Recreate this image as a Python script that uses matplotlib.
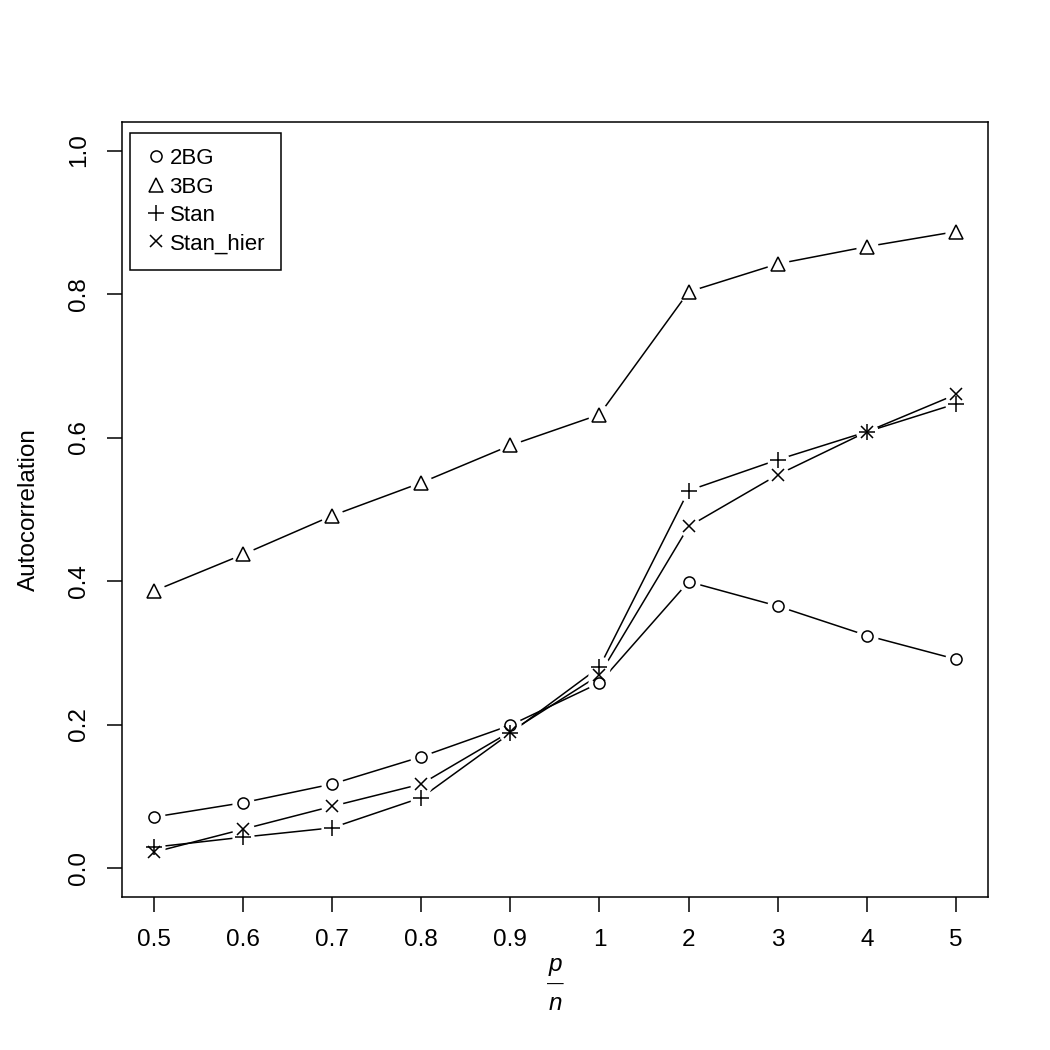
import matplotlib
matplotlib.use("Agg")
from matplotlib import pyplot as plt

ratio_labels = ["0.5", "0.6", "0.7", "0.8", "0.9", "1", "2", "3", "4", "5"]
idx = list(range(1, len(ratio_labels) + 1))

bg2 = [0.071, 0.091, 0.117, 0.155, 0.199, 0.258, 0.399, 0.365, 0.324, 0.291]
bg3 = [0.386, 0.437, 0.491, 0.537, 0.589, 0.632, 0.803, 0.842, 0.866, 0.887]
stan = [0.029, 0.043, 0.056, 0.098, 0.188, 0.280, 0.526, 0.569, 0.608, 0.647]
stan_hier = [0.022, 0.054, 0.086, 0.117, 0.190, 0.269, 0.476, 0.548, 0.608, 0.660]

series = [("2BG", bg2, "o", 8), ("3BG", bg3, "^", 10),
          ("Stan", stan, "+", 12), ("Stan_hier", stan_hier, "x", 9)]

plt.rcParams["font.family"] = ["Liberation Sans", "DejaVu Sans"]

fig = plt.figure(figsize=(10.5, 10.5), dpi=100)
ax = fig.add_axes([0.116, 0.146, 0.825, 0.738])

# lines, then white knockouts (type="b" gaps), then hollow markers
for name, vals, mk, ms in series:
    ax.plot(idx, vals, color="black", lw=1.1, zorder=1)
for name, vals, mk, ms in series:
    ax.plot(idx, vals, ls="none", marker="o", ms=16, mfc="white", mec="none", zorder=2)
for name, vals, mk, ms in series:
    ax.plot(idx, vals, ls="none", marker=mk, ms=ms, mfc="none", mec="black",
            mew=1.1, zorder=3, label=name)

ax.set_xlim(0.64, 10.36)
ax.set_ylim(-0.04, 1.04)
ax.set_xticks(idx)
ax.set_xticklabels(ratio_labels)
ax.set_yticks([0.0, 0.2, 0.4, 0.6, 0.8, 1.0])
ax.set_yticklabels(["0.0", "0.2", "0.4", "0.6", "0.8", "1.0"], rotation=90, va="center")
ax.tick_params(direction="out", length=11, width=1.1, labelsize=17.5, colors="black")
ax.tick_params(axis="x", pad=12)
ax.tick_params(axis="y", pad=12)
for s in ax.spines.values():
    s.set_linewidth(1.1)

ax.set_ylabel("Autocorrelation", fontsize=17.5, labelpad=20)

# x label: p over n, as in R's frac()
cx = 0.116 + 0.825 / 2
fig.text(cx, 1 - 965 / 1050, "p", fontsize=17.5, style="italic", ha="center", va="center")
fig.text(cx, 1 - 984 / 1050, "\u2014", fontsize=12, ha="center", va="center")
fig.text(cx, 1 - 1004 / 1050, "n", fontsize=17.5, style="italic", ha="center", va="center")

leg = ax.legend(loc="upper left", bbox_to_anchor=(0.009, 0.986), fontsize=16,
                frameon=True, fancybox=False, edgecolor="black", framealpha=1,
                handlelength=1.0, handletextpad=0.1, borderpad=0.7, labelspacing=0.33,
                borderaxespad=0, markerscale=1.0)
leg.get_frame().set_linewidth(1.1)

fig.savefig("out.png", dpi=100)
